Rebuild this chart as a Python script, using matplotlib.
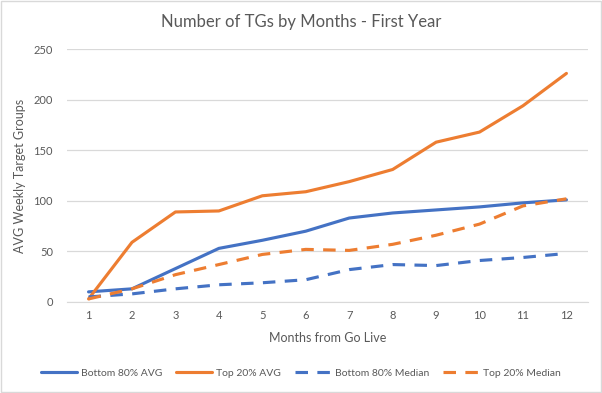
import matplotlib
matplotlib.use("Agg")
import matplotlib.pyplot as plt
from matplotlib.patches import Rectangle

plt.rcParams['font.family'] = ['Lato', 'DejaVu Sans']

months = [1, 2, 3, 4, 5, 6, 7, 8, 9, 10, 11, 12]
bottom_avg = [10, 13, 33, 53, 61, 70, 83, 88, 91, 94, 98, 101]
top_avg = [3, 59, 89, 90, 105, 109, 119, 131, 158, 168, 194, 226]
bottom_median = [5, 8, 13, 17, 19, 22, 32, 37, 36, 41, 44, 48]
top_median = [3, 13, 27, 37, 47, 52, 51, 57, 66, 77, 95, 102]

blue = '#4472C4'
orange = '#ED7D31'
txt = '#595959'

fig = plt.figure(figsize=(6.02, 3.93), dpi=100)
ax = fig.add_axes([0.111, 0.2316, 0.866, 0.6434])

ax.plot(months, bottom_avg, color=blue, lw=2.25, label='Bottom 80% AVG', solid_capstyle='round')
ax.plot(months, top_avg, color=orange, lw=2.25, label='Top 20% AVG', solid_capstyle='round')
ax.plot(months, bottom_median, color=blue, lw=2.25, ls=(0, (4, 3)), label='Bottom 80% Median')
ax.plot(months, top_median, color=orange, lw=2.25, ls=(0, (4, 3)), label='Top 20% Median')

ax.set_xlim(0.5, 12.5)
ax.set_ylim(0, 250)
ax.set_xticks(months)
ax.set_yticks(range(0, 251, 50))
ax.tick_params(axis='both', length=0, colors=txt, labelsize=8)
ax.tick_params(axis='y', pad=10)
ax.tick_params(axis='x', pad=6)
ax.grid(axis='y', color='#D9D9D9', lw=0.9)
ax.set_axisbelow(True)
for s in ['top', 'right', 'left']:
    ax.spines[s].set_visible(False)
ax.spines['bottom'].set_color('#D9D9D9')

ax.set_xlabel('Months from Go Live', color=txt, fontsize=9, labelpad=8)
ax.set_ylabel('AVG Weekly Target Groups', color=txt, fontsize=9, labelpad=5)
fig.text(0.5, 0.945, 'Number of TGs by Months - First Year', ha='center', va='center',
         color=txt, fontsize=12)

leg = fig.legend(loc='center', bbox_to_anchor=(0.5, 0.05), ncol=4, frameon=False,
                 fontsize=7.5, handlelength=3.45, columnspacing=1.3, handletextpad=0.4)
for t in leg.get_texts():
    t.set_color(txt)

fig.patches.append(Rectangle((0.002, 0.003), 0.996, 0.994, transform=fig.transFigure,
                             fill=False, edgecolor='#D9D9D9', lw=1))

fig.savefig('out.png', dpi=100)
